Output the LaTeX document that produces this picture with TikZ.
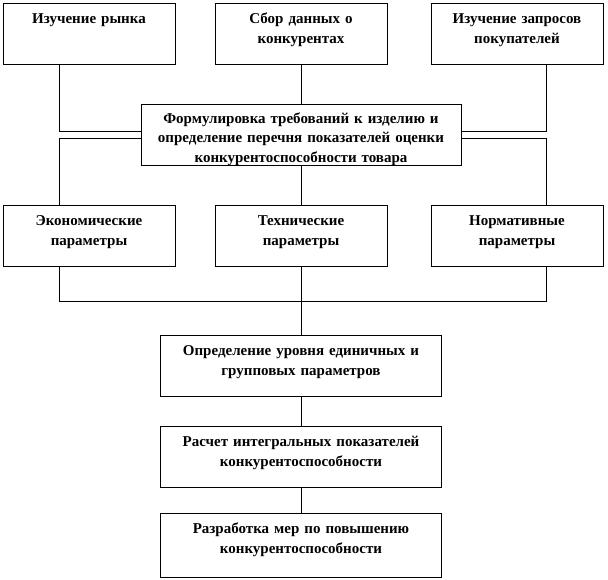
\documentclass[tikz,border=0pt]{standalone}
\usepackage{fontspec}
\setmainfont{Liberation Serif}
\usetikzlibrary{positioning}

\begin{document}
\begin{tikzpicture}[
    x=1pt, y=1pt,
    font=\fontsize{15}{20}\selectfont\bfseries,
    blok/.style={draw, line width=0.8pt, outer sep=0pt, align=center, inner xsep=4pt, inner ysep=4pt,
      text width=164pt, text height=16pt, text depth=37pt},
    blokw/.style={blok, text width=312pt, text height=15pt, text depth=38pt,
      font=\fontsize{15}{19.5}\selectfont\bfseries},
    blokm/.style={blok, text width=273pt},
    svyaz/.style={line width=0.7pt},
  ]
  \useasboundingbox (0,0) rectangle (608,-579);
  % verkhnij ryad
  \node[blok] at (89,-33.5) (izuch) {Изучение рынка};
  \node[blok, right=40pt of izuch] (sbor) {Сбор данных о\\конкурентах};
  \node[blok, right=44pt of sbor] (zapros) {Изучение запросов\\покупателей};
  \node[blokw, below=40pt of sbor] (form) {Формулировка требований к изделию и\\определение перечня показателей оценки\\конкурентоспособности товара};
  % parametry
  \node[blok, below=40pt of form] (tech) {Технические\\параметры};
  \node[blok, left=40pt of tech] (econ) {Экономические\\параметры};
  \node[blok, right=44pt of tech] (norm) {Нормативные\\параметры};
  \node[blokm, below=69pt of tech] (opred) {Определение уровня единичных и\\групповых параметров};
  \node[blokm, below=30pt of opred] (rasch) {Расчет интегральных показателей\\конкурентоспособности};
  \node[blokm, below=26pt of rasch, text depth=40pt] (razrab) {Разработка мер по повышению\\конкурентоспособности};
  \coordinate (merge) at ([yshift=-35pt]tech.south);

  \draw[svyaz] ([xshift=-30pt]izuch.south) |- ([yshift=3.5pt]form.west);
  \draw[svyaz] ([yshift=-3.5pt]form.west) -| ([xshift=-30pt]econ.north);
  \draw[svyaz] ([xshift=29pt]zapros.south) |- ([yshift=3.5pt]form.east);
  \draw[svyaz] ([yshift=-3.5pt]form.east) -| ([xshift=29pt]norm.north);
  \draw[svyaz] (sbor) -- (form);
  \draw[svyaz] (form) -- (tech);
  \draw[svyaz] ([xshift=-30pt]econ.south) |- (merge);
  \draw[svyaz] ([xshift=29pt]norm.south) |- (merge);
  \draw[svyaz] (tech) -- (opred);
  \draw[svyaz] (opred) -- (rasch);
  \draw[svyaz] (rasch) -- (razrab);
\end{tikzpicture}
\end{document}
